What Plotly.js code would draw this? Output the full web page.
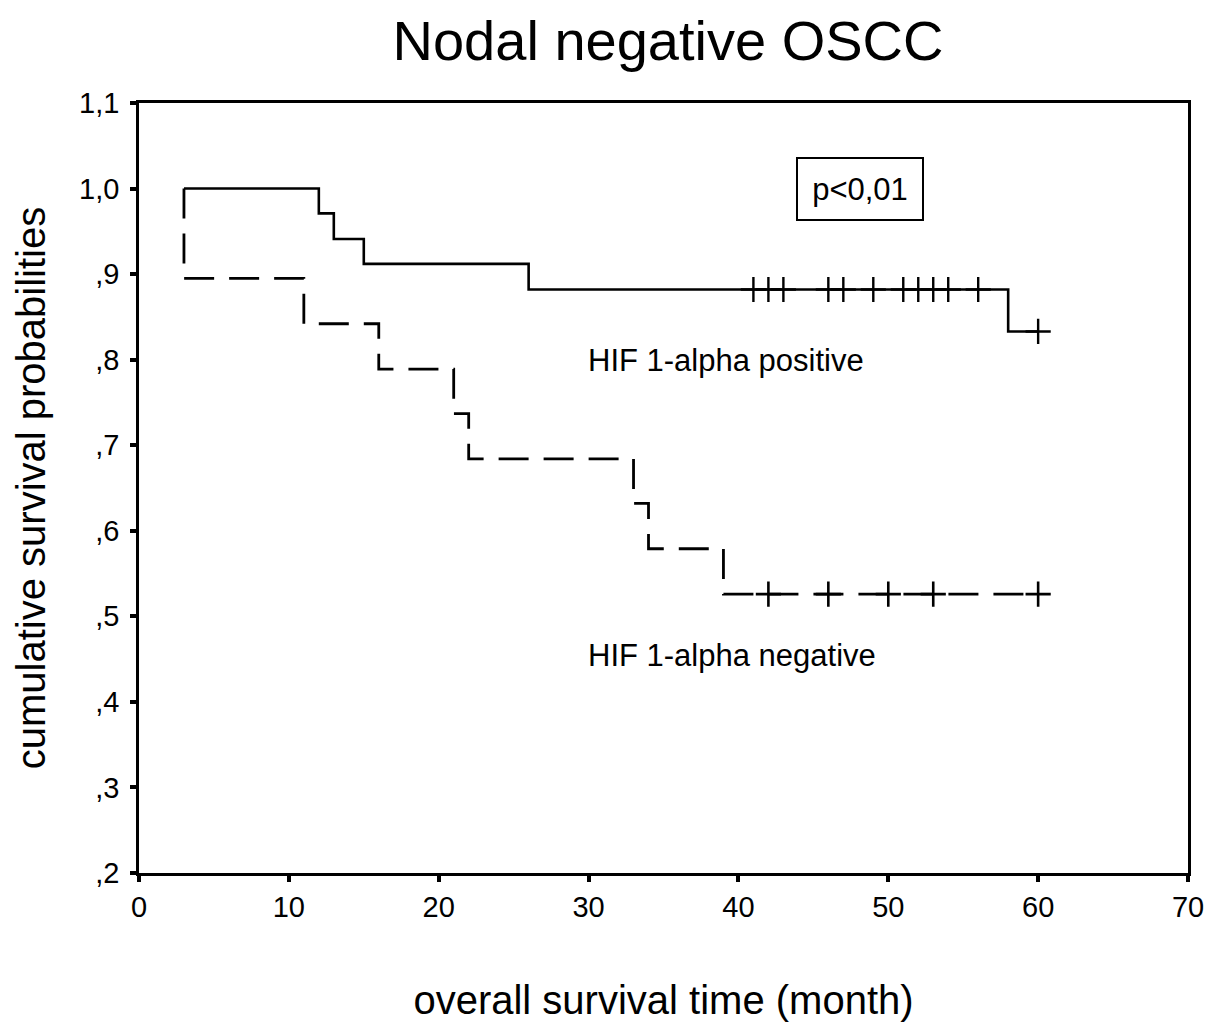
<!DOCTYPE html>
<html>
<head>
<meta charset="utf-8">
<script src="https://cdn.plot.ly/plotly-3.0.1.min.js"></script>
<style>html,body{margin:0;padding:0;background:#fff;}#chart{width:1206px;height:1024px;}</style>
</head>
<body>
<div id="chart"></div>
<script>
// HIF 1-alpha positive (solid)
const posTimes = [3, 12, 13, 15, 26, 58, 60];
const posSurv  = [1.0, 0.971, 0.941, 0.912, 0.882, 0.833, 0.833];
const posCensored = [41, 42, 43, 46, 47, 49, 51, 52, 53, 54, 56, 60];

// HIF 1-alpha negative (dashed)
const negTimes = [3, 3, 11, 16, 21, 22, 33, 34, 39, 60];
const negSurv  = [1.0, 0.895, 0.842, 0.789, 0.737, 0.684, 0.632, 0.579, 0.526, 0.526];
const negCensored = [42, 46, 50, 53, 60];

const yTickVals = [0.2, 0.3, 0.4, 0.5, 0.6, 0.7, 0.8, 0.9, 1.0, 1.1];
const yTickText = [',2', ',3', ',4', ',5', ',6', ',7', ',8', ',9', '1,0', '1,1'];
const xTickVals = [0, 10, 20, 30, 40, 50, 60, 70];

function stepAt(times, surv, t) {
  let v = surv[0];
  for (let i = 0; i < times.length; i++) { if (times[i] <= t) v = surv[i]; }
  return v;
}

const font = 'Liberation Sans, Arial, sans-serif';

const traces = [
  {x: negTimes, y: negSurv, mode: 'lines', line: {shape: 'hv', color: '#000', width: 2.8, dash: '30px,15px'}, hoverinfo: 'skip'},
  {x: negCensored, y: negCensored.map(t => stepAt(negTimes, negSurv, t)), mode: 'markers',
   marker: {symbol: 'cross-thin-open', size: 18, color: '#000', line: {width: 2.6, color: '#000'}}, hoverinfo: 'skip'},
  {x: posTimes, y: posSurv, mode: 'lines', line: {shape: 'hv', color: '#000', width: 2.6}, hoverinfo: 'skip'},
  {x: posCensored, y: posCensored.map(t => stepAt(posTimes, posSurv, t)), mode: 'markers',
   marker: {symbol: 'cross-thin-open', size: 18, color: '#000', line: {width: 2.4, color: '#000'}}, hoverinfo: 'skip'}
];

const layout = {
  width: 1206, height: 1024,
  margin: {l: 139, r: 18, t: 103, b: 151},
  paper_bgcolor: '#fff', plot_bgcolor: '#fff',
  showlegend: false,
  font: {family: font, color: '#000'},
  title: {text: 'Nodal negative OSCC', font: {family: font, size: 56, color: '#000'},
          x: 668/1206, xanchor: 'center', y: 1 - 40/1024, yanchor: 'middle', xref: 'container', yref: 'container'},
  xaxis: {range: [0, 70], tickvals: xTickVals, ticktext: xTickVals.map(String),
          showline: true, mirror: true, linecolor: '#000', linewidth: 2.8,
          ticks: 'outside', ticklen: 6, tickwidth: 4, tickcolor: '#000',
          showgrid: false, zeroline: false, tickfont: {size: 29, family: font},
          title: {text: 'overall survival time (month)', font: {size: 40, family: font}, standoff: 65}},
  yaxis: {range: [0.2, 1.1], tickvals: yTickVals, ticktext: yTickText,
          showline: true, mirror: true, linecolor: '#000', linewidth: 2.8,
          ticks: 'outside', ticklen: 6, tickwidth: 4, tickcolor: '#000',
          showgrid: false, zeroline: false, tickfont: {size: 29, family: font},
          ticklabelstandoff: 5,
          title: {text: 'cumulative survival probabilities', font: {size: 40, family: font}, standoff: 21}},
  annotations: [
    {x: 48.1, y: 1.0, xref: 'x', yref: 'y', text: 'p&lt;0,01', showarrow: false,
     font: {size: 31, family: font, color: '#000'}, bordercolor: '#000', borderwidth: 2,
     width: 122, height: 58, bgcolor: '#fff'},
    {x: 29.85, y: 0.799, xref: 'x', yref: 'y', text: 'HIF 1-alpha positive', showarrow: false,
     xanchor: 'left', font: {size: 31, family: font, color: '#000'}},
    {x: 29.85, y: 0.454, xref: 'x', yref: 'y', text: 'HIF 1-alpha negative', showarrow: false,
     xanchor: 'left', font: {size: 31, family: font, color: '#000'}}
  ]
};

Plotly.newPlot('chart', traces, layout, {staticPlot: true, displayModeBar: false});
</script>
</body>
</html>
